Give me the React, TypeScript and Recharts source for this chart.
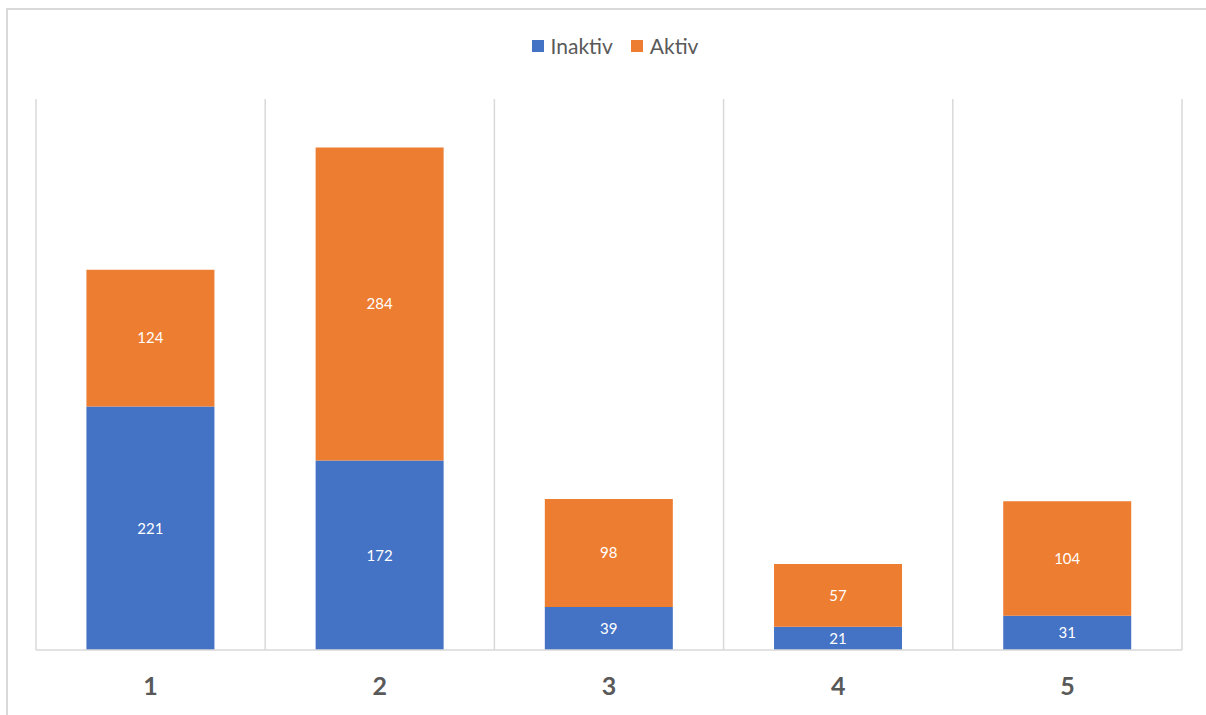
import React from "react";
import { BarChart, Bar, XAxis, YAxis, CartesianGrid, LabelList } from "recharts";

const categories = ["1", "2", "3", "4", "5"];
const inaktiv = [221, 172, 39, 21, 31];
const aktiv = [124, 284, 98, 57, 104];
const seriesNames = ["Inaktiv", "Aktiv"];
const seriesColors = ["#4472C4", "#ED7D31"];

const data = categories.map((name, i) => ({ name, Inaktiv: inaktiv[i], Aktiv: aktiv[i] }));

const FONT = "Lato, 'Open Sans', sans-serif";
const GRID = "#d9d9d9";

// Vertical separators sit on category boundaries rather than tick centres.
const boundaryLines = ({ offset }: any) => {
  const n = categories.length;
  const step = offset.width / n;
  return Array.from({ length: n + 1 }, (_, i) => offset.left + i * step);
};

function ChartLegend() {
  return (
    <div
      style={{
        position: "absolute",
        left: 0,
        top: 33,
        width: 1230,
        display: "flex",
        justifyContent: "center",
        fontFamily: FONT,
        fontSize: 21,
        color: "#595959",
        lineHeight: "26px",
      }}
    >
      {seriesNames.map((name, i) => (
        <div key={name} style={{ display: "flex", alignItems: "center", marginRight: i === 0 ? 18 : 0 }}>
          <span style={{ width: 12, height: 12, background: seriesColors[i], display: "inline-block", marginRight: 7 }} />
          <span>{name}</span>
        </div>
      ))}
    </div>
  );
}

export default function App() {
  return (
    <div style={{ position: "absolute", left: 0, top: 0, width: 1206, height: 715, overflow: "hidden", background: "#fff" }}>
      <div
        style={{
          position: "absolute",
          left: 6,
          top: 8,
          width: 1240,
          height: 760,
          borderTop: `2px solid ${GRID}`,
          borderLeft: `2px solid ${GRID}`,
        }}
      />
      <BarChart
        width={1206}
        height={715}
        data={data}
        margin={{ top: 99, right: 24, left: 36, bottom: 0 }}
        barCategoryGap="22%"
        style={{ position: "absolute", left: 0, top: 0 }}
      >
        <CartesianGrid horizontal={false} stroke={GRID} strokeWidth={1.5} verticalCoordinatesGenerator={boundaryLines} />
        <XAxis
          dataKey="name"
          height={65}
          axisLine={{ stroke: GRID, strokeWidth: 1.5 }}
          tickLine={false}
          tick={{ fill: "#595959", fontSize: 25, fontWeight: 700, fontFamily: FONT }}
          dy={19}
        />
        <YAxis hide domain={[0, 500]} />
        <Bar dataKey="Inaktiv" stackId="a" fill={seriesColors[0]} isAnimationActive={false}>
          <LabelList dataKey="Inaktiv" position="center" fill="#ffffff" fontSize={15} fontFamily={FONT} />
        </Bar>
        <Bar dataKey="Aktiv" stackId="a" fill={seriesColors[1]} isAnimationActive={false}>
          <LabelList dataKey="Aktiv" position="center" fill="#ffffff" fontSize={15} fontFamily={FONT} />
        </Bar>
      </BarChart>
      <ChartLegend />
    </div>
  );
}
